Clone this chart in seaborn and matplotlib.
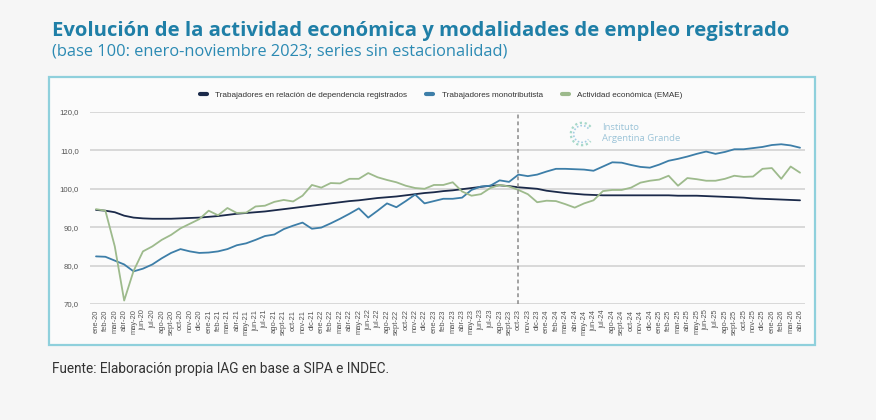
import pandas as pd
import matplotlib.pyplot as plt
import seaborn as sns
from matplotlib.patches import Rectangle, Arc
from matplotlib.lines import Line2D

# meses ene-20 .. abr-26
meses = ['ene', 'feb', 'mar', 'abr', 'may', 'jun', 'jul', 'ago', 'sept', 'oct', 'nov', 'dic']
periodos = [f'{m}-{a}' for a in range(20, 27) for m in meses][:76]

dependencia = [94.5, 94.3, 93.9, 93.0, 92.5, 92.3, 92.2, 92.2, 92.2, 92.3, 92.4, 92.5,
               92.7, 92.9, 93.2, 93.5, 93.7, 93.9, 94.1, 94.4, 94.7, 95.0, 95.3, 95.6,
               95.9, 96.2, 96.5, 96.8, 97.0, 97.3, 97.6, 97.8, 98.0, 98.3, 98.6, 98.9,
               99.1, 99.4, 99.6, 99.9, 100.2, 100.5, 100.8, 100.9, 100.7, 100.4, 100.2, 100.0,
               99.5, 99.2, 98.9, 98.7, 98.5, 98.4, 98.3, 98.3, 98.3, 98.3, 98.3, 98.3,
               98.3, 98.3, 98.2, 98.2, 98.2, 98.1, 98.0, 97.9, 97.8, 97.7, 97.5, 97.4,
               97.3, 97.2, 97.1, 97.0]

monotributo = [82.4, 82.3, 81.3, 80.3, 78.5, 79.2, 80.3, 81.9, 83.3, 84.3, 83.7, 83.3,
               83.4, 83.7, 84.3, 85.3, 85.8, 86.7, 87.7, 88.1, 89.5, 90.4, 91.2, 89.6,
               89.9, 91.0, 92.2, 93.5, 94.9, 92.5, 94.3, 96.2, 95.2, 96.8, 98.5, 96.2,
               96.8, 97.4, 97.4, 97.7, 99.7, 100.6, 100.8, 102.2, 101.8, 103.7, 103.3, 103.7,
               104.5, 105.2, 105.2, 105.1, 105.0, 104.7, 105.8, 106.9, 106.8, 106.2, 105.7, 105.5,
               106.3, 107.3, 107.8, 108.4, 109.1, 109.7, 109.1, 109.6, 110.3, 110.3, 110.6, 110.9,
               111.4, 111.6, 111.3, 110.7]

emae = [94.7, 94.3, 85.0, 70.9, 78.6, 83.7, 85.0, 86.7, 88.0, 89.7, 90.9, 92.1,
        94.3, 93.1, 95.0, 93.7, 93.8, 95.4, 95.6, 96.6, 97.1, 96.7, 98.2, 101.0,
        100.3, 101.5, 101.4, 102.6, 102.6, 104.1, 103.0, 102.3, 101.7, 100.8, 100.2, 100.0,
        101.0, 101.0, 101.7, 99.3, 98.2, 98.6, 100.2, 101.0, 100.6, 99.7, 98.6, 96.5,
        96.9, 96.8, 96.0, 95.1, 96.2, 97.0, 99.4, 99.7, 99.7, 100.3, 101.6, 102.1,
        102.4, 103.4, 100.8, 102.8, 102.5, 102.1, 102.1, 102.6, 103.4, 103.1, 103.2, 105.2,
        105.4, 102.6, 105.8, 104.2]

series = ['Trabajadores en relación de dependencia registrados',
          'Trabajadores monotributista',
          'Actividad económica (EMAE)']
colores = ['#1b2a4a', '#3d7ea8', '#9dba8c']
corte = 'oct-23'

n = len(periodos)
df = pd.DataFrame({
    'idx': list(range(n)) * 3,
    'serie': [series[0]] * n + [series[1]] * n + [series[2]] * n,
    'valor': dependencia + monotributo + emae,
})

sns.set_style('white')
plt.rcParams['font.family'] = ['Liberation Sans', 'DejaVu Sans']

W, H = 876, 420
fig = plt.figure(figsize=(W / 100, H / 100), dpi=100, facecolor='#f6f6f6')

# recuadro del grafico
fig.patches.append(Rectangle((49 / W, 1 - 345 / H), (815 - 49) / W, (345 - 77) / H,
                             transform=fig.transFigure, facecolor='#fbfbfb',
                             edgecolor='#8fd0dc', linewidth=1.6, zorder=-5))

ax = fig.add_axes([90 / W, 1 - 304 / H, 715 / W, 192 / H], zorder=2)
ax.patch.set_alpha(0)

sns.lineplot(data=df, x='idx', y='valor', hue='serie', hue_order=series,
             palette=colores, linewidth=1.3, legend=False, ax=ax)

ax.axvline(periodos.index(corte), color='#8a8a8a', linestyle=(0, (2.5, 2)), linewidth=1.1)

ax.set_xlim(-0.64, n - 1 + 0.53)
ax.set_ylim(70, 120)
ax.set_yticks([70, 80, 90, 100, 110, 120])
ax.set_yticklabels([f'{v:.1f}'.replace('.', ',') for v in [70, 80, 90, 100, 110, 120]])
ax.set_xticks(range(n))
ax.set_xticklabels(periodos, rotation=90)
ax.tick_params(axis='x', labelsize=5.4, colors='#555555', length=0, pad=4)
ax.tick_params(axis='y', labelsize=5.6, colors='#555555', length=0, pad=8)
ax.grid(axis='y', color='#cfcfcf', linewidth=1.1)
ax.grid(axis='x', visible=False)
ax.set_axisbelow(True)
for s in ax.spines.values():
    s.set_visible(False)
ax.set_xlabel('')
ax.set_ylabel('')

# leyenda
handles = [Line2D([], [], color=c, linewidth=3) for c in colores]
fig.legend(handles, series, loc='center', bbox_to_anchor=(441 / W, 1 - 95 / H), ncol=3,
           frameon=False, fontsize=5.9, handlelength=0.9, handletextpad=1.0,
           columnspacing=2.3, labelcolor='#333333')

# logo
lax = fig.add_axes([568 / W, 1 - 148 / H, 28 / W, 28 / H], zorder=3)
lax.set_xlim(-1, 1)
lax.set_ylim(-1, 1)
lax.set_aspect('equal')
lax.axis('off')
lax.add_patch(Arc((0, 0), 1.6, 1.6, theta1=40, theta2=320, color='#a6d8c9',
                  linestyle=(0, (1, 1.2)), linewidth=1.6))
lax.add_patch(Arc((0, 0), 1.2, 1.2, theta1=40, theta2=320, color='#a3cce3',
                  linestyle=(0, (1, 1.2)), linewidth=1.2))
fig.text(602 / W, 1 - 133 / H, 'Instituto\nArgentina Grande', fontsize=6.8,
         color='#9cc4d8', va='center', ha='left', family=['Open Sans', 'DejaVu Sans'],
         linespacing=1.15)

# titulos
fig.text(52 / W, 1 - 31 / H, 'Evolución de la actividad económica y modalidades de empleo registrado',
         fontsize=14.6, fontweight='bold', color='#1f7fa7', va='center', ha='left',
         family=['Open Sans', 'DejaVu Sans'])
fig.text(52 / W, 1 - 52 / H, '(base 100: enero-noviembre 2023; series sin estacionalidad)',
         fontsize=11.8, color='#2b8ab3', va='center', ha='left',
         family=['Open Sans', 'DejaVu Sans'])
fig.text(52 / W, 1 - 369 / H, 'Fuente: Elaboración propia IAG en base a SIPA e INDEC.',
         fontsize=9.8, color='#333333', va='center', ha='left',
         family=['Roboto', 'DejaVu Sans'])

fig.savefig('out.png', dpi=100, facecolor=fig.get_facecolor())
